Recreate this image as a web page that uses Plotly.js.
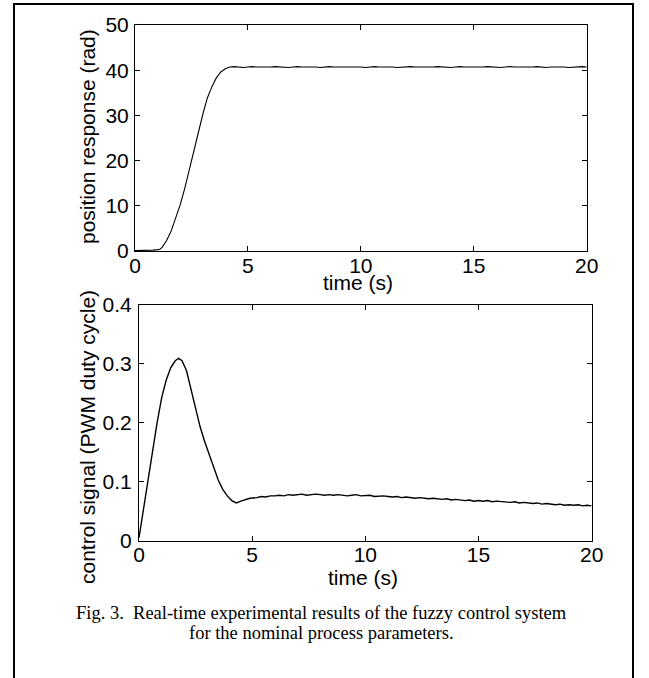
<!DOCTYPE html>
<html>
<head>
<meta charset="utf-8">
<script src="https://cdn.plot.ly/plotly-3.0.1.min.js"></script>
<style>html,body{margin:0;padding:0;background:#fff;}#chart{width:649px;height:678px;}</style>
</head>
<body>
<div id="chart"></div>
<script>
// ---- data ----
var posTime = [0,0.2,0.4,0.6,0.8,1.0,1.1,1.2,1.4,1.6,1.8,2.0,2.2,2.4,2.6,2.8,3.0,3.2,3.4,3.6,3.8,4.0,4.2,4.4,
  4.6,4.8,5.0,5.2,5.4,5.6,5.8,6.0,6.2,6.4,6.6,6.8,7.0,7.2,7.4,7.6,7.8,8.0,8.2,8.4,8.6,8.8,9.0,9.2,9.4,9.6,9.8,10.0,
  10.2,10.4,10.6,10.8,11.0,11.2,11.4,11.6,11.8,12.0,12.2,12.4,12.6,12.8,13.0,13.2,13.4,13.6,13.8,14.0,14.2,14.4,14.6,14.8,15.0,
  15.2,15.4,15.6,15.8,16.0,16.2,16.4,16.6,16.8,17.0,17.2,17.4,17.6,17.8,18.0,18.2,18.4,18.6,18.8,19.0,19.2,19.4,19.6,19.8,20.0];
var posValue = [0.1,0.1,0.1,0.2,0.2,0.3,0.4,0.8,2.3,4.4,7.2,10.2,13.8,17.8,22.0,26.5,30.2,33.8,36.3,38.3,39.6,40.3,40.7,40.8,
  40.7,40.6,40.7,40.8,40.7,40.7,40.6,40.7,40.8,40.7,40.7,40.6,40.7,40.8,40.7,40.7,40.8,40.7,40.6,40.7,40.8,40.7,40.7,40.8,
  40.7,40.8,40.7,40.7,40.6,40.7,40.8,40.7,40.7,40.8,40.7,40.6,40.7,40.7,40.8,40.7,40.7,40.6,40.7,40.7,40.8,40.7,40.7,40.6,
  40.7,40.8,40.7,40.7,40.6,40.7,40.7,40.8,40.7,40.7,40.6,40.7,40.8,40.7,40.7,40.6,40.7,40.7,40.8,40.7,40.6,40.7,40.7,40.8,40.7,40.6,40.7,40.7,40.8,40.7];

var ctlTime = [0,0.1,0.2,0.4,0.6,0.8,1.0,1.2,1.4,1.6,1.75,1.9,2.1,2.3,2.5,2.7,2.9,3.1,3.3,3.5,3.7,3.9,4.1,4.3,4.5,4.7,4.9,
  5.2,5.4,5.6,5.8,6.0,6.2,6.4,6.6,6.8,7.0,7.2,7.4,7.6,7.8,8.0,8.2,8.4,8.6,8.8,9.0,9.2,9.4,9.6,9.8,10.0,
  10.2,10.4,10.6,10.8,11.0,11.2,11.4,11.6,11.8,12.0,12.2,12.4,12.6,12.8,13.0,13.2,13.4,13.6,13.8,14.0,14.2,14.4,14.6,14.8,15.0,
  15.2,15.4,15.6,15.8,16.0,16.2,16.4,16.6,16.8,17.0,17.2,17.4,17.6,17.8,18.0,18.2,18.4,18.6,18.8,19.0,19.2,19.4,19.6,19.8,20.0];
var ctlValue = [0.005,0.03,0.055,0.105,0.155,0.2,0.242,0.272,0.293,0.305,0.309,0.305,0.288,0.255,0.222,0.193,0.168,0.146,0.123,0.103,0.087,0.076,0.068,0.064,0.067,0.070,0.072,
  0.073,0.075,0.074,0.076,0.076,0.077,0.076,0.078,0.077,0.078,0.079,0.077,0.078,0.079,0.078,0.077,0.078,0.077,0.078,0.077,0.076,0.077,0.078,0.076,0.076,
  0.077,0.075,0.076,0.076,0.075,0.074,0.075,0.073,0.074,0.073,0.072,0.073,0.072,0.071,0.072,0.071,0.070,0.071,0.069,0.070,0.069,0.068,0.069,0.067,0.068,
  0.067,0.068,0.066,0.067,0.066,0.066,0.065,0.066,0.064,0.065,0.064,0.063,0.064,0.062,0.063,0.062,0.061,0.062,0.060,0.061,0.060,0.061,0.059,0.060,0.059];

var xTicks = [0,5,10,15,20];
var posTicks = [0,10,20,30,40,50];
var ctlTicks = [0,0.1,0.2,0.3,0.4];
var texts = {
  posY: 'position response (rad)',
  ctlY: 'control signal (PWM duty cycle)',
  xTitle: 'time (s)',
  caption1: 'Fig. 3.  Real-time experimental results of the fuzzy control system',
  caption2: 'for the nominal process parameters.'
};

// ---- drawing ----
var W = 649, H = 678;
function px(x){return x/W;}
function py(y){return (H-y)/H;}
var tickFont = {family:'Liberation Sans, Arial, sans-serif', size:21, color:'#000'};
var capFont = {family:'Liberation Serif, Times New Roman, serif', size:18.5, color:'#000'};
var axBase = {showline:true, linecolor:'#000', linewidth:1, mirror:'ticks', ticks:'inside', ticklen:5,
  tickcolor:'#000', showgrid:false, zeroline:false, tickfont:tickFont, fixedrange:true};

var traces = [
  {x:posTime, y:posValue, type:'scatter', mode:'lines', line:{color:'#000', width:1.1}, xaxis:'x', yaxis:'y', hoverinfo:'skip'},
  {x:ctlTime, y:ctlValue, type:'scatter', mode:'lines', line:{color:'#000', width:1.4}, xaxis:'x2', yaxis:'y2', hoverinfo:'skip'}
];

var layout = {
  width:W, height:H, margin:{l:0,r:0,t:0,b:0}, paper_bgcolor:'#fff', plot_bgcolor:'#fff', showlegend:false,
  xaxis: Object.assign({}, axBase, {domain:[px(135),px(586.7)], range:[0,20], tickvals:xTicks, ticktext:xTicks.map(String), anchor:'y', ticklabelstandoff:-4}),
  yaxis: Object.assign({}, axBase, {domain:[py(251),py(25)], range:[0,50], tickvals:posTicks, ticktext:posTicks.map(String), anchor:'x', ticklabelstandoff:1}),
  xaxis2: Object.assign({}, axBase, {domain:[px(139),px(591.7)], range:[0,20], tickvals:xTicks, ticktext:xTicks.map(String), anchor:'y2', ticklabelstandoff:-5}),
  yaxis2: Object.assign({}, axBase, {domain:[py(540.7),py(304.7)], range:[0,0.4], tickvals:ctlTicks, ticktext:ctlTicks.map(String), anchor:'x2', ticklabelstandoff:2}),
  annotations: [
    {text:texts.xTitle, xref:'paper', yref:'paper', x:px(358), y:py(282), xanchor:'center', yanchor:'middle', showarrow:false, font:tickFont},
    {text:texts.xTitle, xref:'paper', yref:'paper', x:px(363), y:py(577), xanchor:'center', yanchor:'middle', showarrow:false, font:tickFont},
    {text:texts.posY, xref:'paper', yref:'paper', x:px(87), y:py(137), xanchor:'center', yanchor:'middle', textangle:-90, showarrow:false, font:tickFont},
    {text:texts.ctlY, xref:'paper', yref:'paper', x:px(88), y:py(437), xanchor:'center', yanchor:'middle', textangle:-90, showarrow:false, font:tickFont},
    {text:texts.caption1, xref:'paper', yref:'paper', x:px(321), y:py(613), xanchor:'center', yanchor:'middle', showarrow:false, font:capFont},
    {text:texts.caption2, xref:'paper', yref:'paper', x:px(321), y:py(633), xanchor:'center', yanchor:'middle', showarrow:false, font:capFont}
  ],
  shapes: [
    {type:'rect', xref:'paper', yref:'paper', x0:px(14), x1:px(633), y0:-0.02, y1:py(4), line:{color:'#000', width:2}, fillcolor:'rgba(0,0,0,0)'}
  ]
};

Plotly.newPlot('chart', traces, layout, {displayModeBar:false, staticPlot:true});
</script>
</body>
</html>
